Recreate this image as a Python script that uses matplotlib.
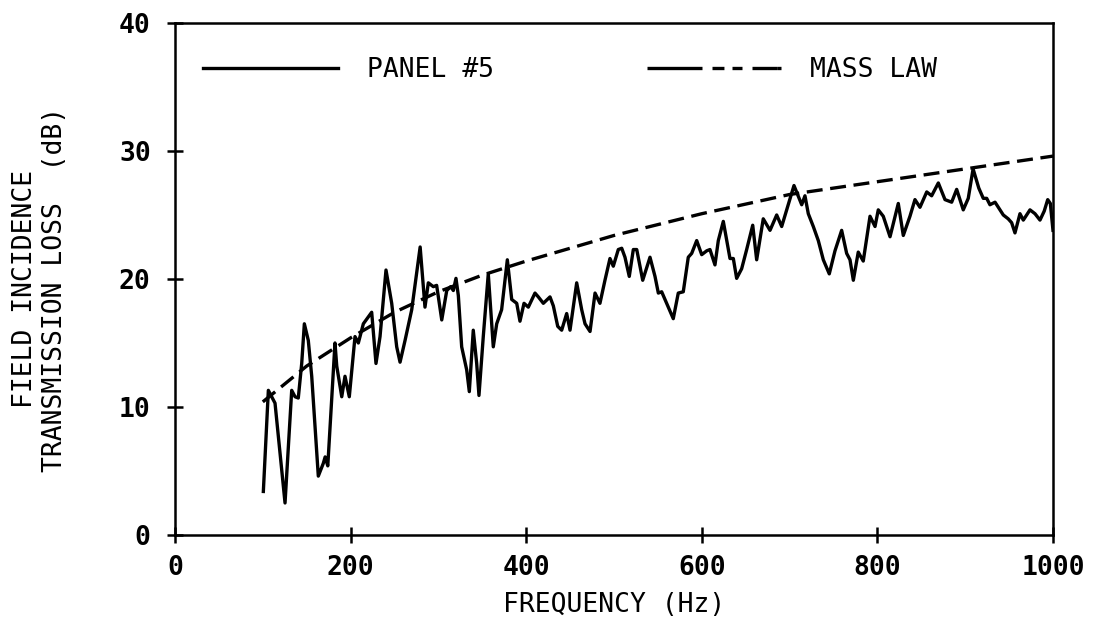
import matplotlib
matplotlib.use("Agg")
import matplotlib.pyplot as plt
from matplotlib.lines import Line2D

# Panel #5 transmission loss (Hz, dB)
panel_freq = [100.6, 106.3, 113.9, 125.3, 132.9, 136.7, 140.4, 144.3, 147.3, 151.8,
              155.7, 163.2, 168.9, 171.0, 174.0, 182.2, 184.2, 189.9, 193.6, 198.5,
              205.0, 208.8, 214.5, 224.0, 228.9, 233.5, 240.3, 246.8, 252.5, 256.3,
              262.0, 269.6, 279.2, 284.7, 288.5, 294.2, 298.0, 303.8, 309.5, 314.0,
              317.0, 320.0, 322.7, 326.5, 332.2, 335.2, 339.7, 343.6, 346.2, 351.1,
              356.8, 362.5, 366.4, 372.0, 378.5, 383.5, 389.2, 392.9, 397.5, 402.4,
              410.0, 413.8, 419.5, 427.1, 430.9, 435.9, 440.4, 446.1, 449.9, 457.5,
              463.2, 467.0, 472.7, 478.4, 484.0, 489.7, 495.4, 499.2, 504.9, 508.8,
              512.5, 517.4, 522.0, 525.9, 532.7, 541.0, 546.7, 550.5, 554.3, 558.1,
              561.8, 567.5, 573.2, 578.9, 584.6, 588.5, 594.2, 599.9, 605.6, 609.3,
              615.0, 618.8, 624.5, 628.4, 632.1, 635.9, 639.7, 645.4, 651.1, 658.0,
              662.5, 670.0, 677.7, 685.3, 691.0, 696.7, 705.0, 713.8, 717.5, 721.3,
              727.0, 732.7, 738.4, 745.2, 751.7, 759.3, 765.0, 768.8, 772.6, 778.2,
              783.9, 791.6, 797.3, 801.0, 806.7, 814.4, 823.8, 829.5, 837.1, 842.8,
              848.5, 856.2, 861.8, 869.4, 877.0, 884.6, 890.3, 897.8, 903.5, 909.0,
              915.5, 920.6, 924.5, 928.2, 934.0, 939.6, 943.4, 949.0, 952.9, 956.7,
              962.4, 966.2, 973.8, 979.5, 985.2, 990.0, 994.0, 997.0, 1000.0]
panel_tl = [3.4, 11.3, 10.3, 2.5, 11.3, 10.8, 10.7, 13.4, 16.5, 15.2,
            12.4, 4.6, 5.6, 6.1, 5.4, 15.0, 13.2, 10.8, 12.4, 10.8,
            15.5, 15.0, 16.5, 17.4, 13.4, 15.5, 20.7, 18.1, 14.7, 13.5,
            15.2, 17.6, 22.5, 17.8, 19.7, 19.4, 19.5, 16.8, 19.1, 19.4,
            19.1, 20.05, 18.7, 14.7, 12.9, 11.2, 16.0, 13.4, 10.9, 15.5,
            20.4, 14.7, 16.5, 17.6, 21.5, 18.4, 18.1, 16.7, 18.1, 17.8,
            18.9, 18.6, 18.1, 18.6, 17.9, 16.3, 16.0, 17.3, 16.0, 19.7,
            17.6, 16.5, 15.9, 18.9, 18.1, 19.9, 21.6, 21.0, 22.3, 22.4,
            21.7, 20.2, 22.3, 22.3, 19.9, 21.7, 20.2, 18.9, 19.0, 18.4,
            17.8, 16.9, 18.9, 19.0, 21.7, 22.0, 23.0, 21.9, 22.2, 22.3,
            21.1, 23.0, 24.5, 23.0, 21.6, 21.6, 20.05, 20.8, 22.3, 24.2,
            21.5, 24.7, 23.8, 25.0, 24.1, 25.4, 27.3, 25.8, 26.5, 25.1,
            24.1, 23.0, 21.5, 20.4, 22.2, 23.8, 22.0, 21.5, 19.9, 22.1,
            21.4, 24.9, 24.1, 25.4, 24.9, 23.3, 25.9, 23.4, 24.9, 26.2,
            25.6, 26.8, 26.5, 27.5, 26.2, 26.0, 27.0, 25.4, 26.3, 28.6,
            27.1, 26.3, 26.3, 25.8, 26.0, 25.4, 25.0, 24.7, 24.4, 23.6,
            25.1, 24.6, 25.4, 25.1, 24.6, 25.3, 26.2, 25.9, 23.8]

# field incidence mass law
mass_freq = [100, 150, 200, 250, 300, 350, 400, 450, 500, 600, 700, 800, 900, 1000]
mass_tl = [10.4, 13.2, 15.4, 17.4, 19.0, 20.3, 21.4, 22.4, 23.4, 25.1, 26.6, 27.6, 28.6, 29.6]

x_ticks = [0, 200, 400, 600, 800, 1000]
y_ticks = [0, 10, 20, 30, 40]

plt.rcParams['lines.scale_dashes'] = False
mono = 'DejaVu Sans Mono'

fig = plt.figure(figsize=(10.98, 6.21), dpi=100)
ax = fig.add_axes([0.1594, 0.1385, 0.7996, 0.8245])

ax.plot(panel_freq, panel_tl, color='black', lw=2.4, solid_joinstyle='round')
ax.plot(mass_freq, mass_tl, color='black', lw=2.4, dashes=(11.5, 5.5))

ax.set_xlim(0, 1000)
ax.set_ylim(0, 40)
ax.set_xticks(x_ticks)
ax.set_yticks(y_ticks)
ax.set_xticklabels([str(v) for v in x_ticks], family=mono,
                   fontsize=19, fontweight='bold')
ax.set_yticklabels([str(v) for v in y_ticks], family=mono,
                   fontsize=19, fontweight='bold')
ax.tick_params(direction='inout', length=11, width=1.8, colors='black')
ax.tick_params(axis='x', pad=9)
ax.tick_params(axis='y', pad=12)
for s in ax.spines.values():
    s.set_linewidth(1.8)

ax.set_xlabel('FREQUENCY (Hz)', family=mono, fontsize=19, labelpad=8)
fig.text(40 / 1098, 1 - 289 / 621, 'FIELD INCIDENCE\nTRANSMISSION LOSS  (dB)',
         family=mono, fontsize=19, rotation=90, ha='center', va='center',
         multialignment='center', linespacing=1.2)

h_panel = Line2D([], [], color='black', lw=2.4)
h_mass = Line2D([], [], color='black', lw=2.4,
                dashes=(39.6, 7.2, 8.6, 5.8, 7.2, 7.2, 18, 0.1))
ax.legend([h_panel, h_mass], ['PANEL #5', 'MASS LAW'], ncol=2, frameon=False,
          loc='upper left', bbox_to_anchor=(203 / 1098, 1 - 57 / 621),
          bbox_transform=fig.transFigure, borderaxespad=0, borderpad=0,
          handlelength=5.1, handletextpad=1.1, columnspacing=5.8,
          prop={'family': mono, 'size': 19})

fig.savefig('out.png', dpi=100)
